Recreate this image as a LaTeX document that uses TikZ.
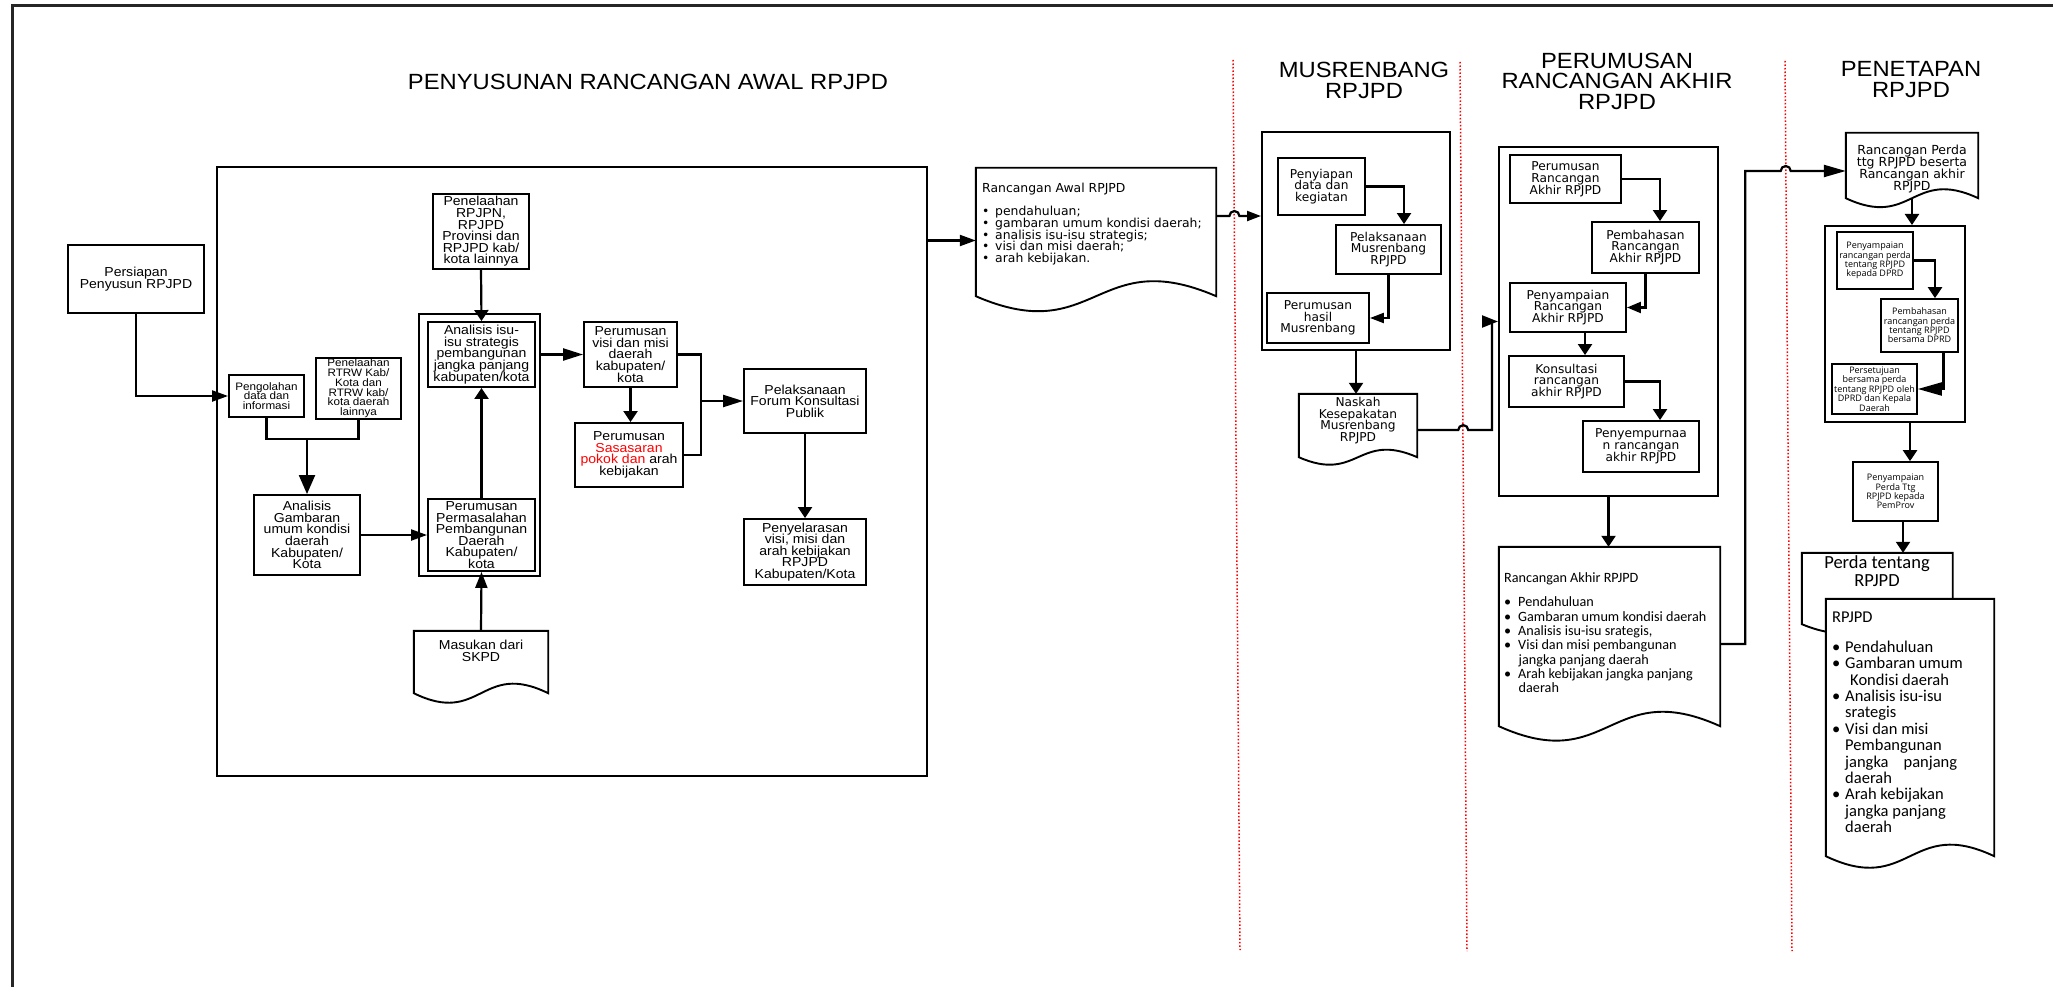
\documentclass[tikz,border=0pt]{standalone}
\usepackage{fontspec}
\setmainfont{Liberation Sans}[FakeStretch=1.08]
\newfontfamily\dejavu{DejaVu Sans}
\newfontfamily\carlito{Carlito}
\newfontfamily\opensans{Open Sans}
\usetikzlibrary{arrows.meta,calc}

% bullets for the list texts inside the document shapes
\newcommand{\bul}{\makebox[13pt][l]{\textbullet}}
\newcommand{\bulc}{\makebox[14pt][l]{\textbullet}}
\newcommand{\bulr}{\makebox[13pt][l]{\textbullet}}

% document symbol: straight top and sides, wavy bottom edge
\newcommand{\docdraw}[2]{\draw[docline] (#1.south east) -- (#1.north east) -- (#1.north west) -- (#1.south west)
  .. controls ($(#1.south)+(0,#2)$) and ($(#1.south)+(0,-#2)$) .. (#1.south east) -- cycle;}

\tikzset{
  every node/.style={inner sep=0pt, execute at begin node={\lineskiplimit=-100pt}},
  wh/.style 2 args={minimum width=#1pt, minimum height=#2pt},
  box/.style={draw, line width=1.9pt, align=center, font=\fontsize{13}{11.6}\selectfont},
  sbox/.style={box, font=\fontsize{10.8}{9.8}\selectfont},
  dbox/.style={box, font=\dejavu\fontsize{12.2}{11.8}\selectfont},
  obox/.style={box, line width=1.7pt, font=\opensans\fontsize{9}{9.4}\selectfont},
  grp/.style={draw, line width=2pt},
  docline/.style={line width=1.9pt, fill=white},
  conn/.style={line width=2.2pt},
  arH/.style={conn, -{Triangle[length=16pt,width=11pt]}},
  arV/.style={conn, -{Triangle[length=11pt,width=14pt]}},
  hdr/.style={align=center, font=\fontsize{22}{20.5}\selectfont},
  reddot/.style={red, dotted, line width=1.5pt},
}

\begin{document}
\begin{tikzpicture}[x=1pt,y=-1pt]
\useasboundingbox (0,0) rectangle (2053,987);

% outer frame
\draw[line width=3pt, black!85] (2060,6) -- (12,6) -- (12,995);

% phase separators
\coordinate (l1a) at (1233,60);  \coordinate (l1b) at (1240,950);
\coordinate (l2a) at (1460,62);  \coordinate (l2b) at (1467,951);
\coordinate (l3a) at (1785,61);  \coordinate (l3b) at (1792,951);
\draw[reddot] (l1a) -- (l1b);
\draw[reddot] (l2a) -- (l2b);
\draw[reddot] (l3a) -- (l3b);

% phase headings
\node[hdr] (ttl1) at (648,82) {PENYUSUNAN RANCANGAN AWAL RPJPD};
\node[hdr] (ttl2) at (1364,80.5) {MUSRENBANG\\RPJPD};
\node[hdr] (ttl3) at (1617,81) {PERUMUSAN\\RANCANGAN AKHIR\\RPJPD};
\node[hdr] (ttl4) at (1911,79.5) {PENETAPAN\\RPJPD};

% ---------- Penyusunan rancangan awal ----------
\node[grp, wh={709.5}{609.3}] (penyusunan) at (571.75,471.35) {};
\node[box, wh={136}{68}] (persiapan) at (136,279) {Persiapan\\Penyusun RPJPD};
\node[sbox, wh={75}{42}] (pengolahan) at (266.5,396) {Pengolahan\\data dan\\informasi};
\node[sbox, wh={85}{61}] (rtrw) at (358.5,388.5) {Penelaahan\\RTRW Kab/\\Kota dan\\RTRW kab/\\kota daerah\\lainnya};
\node[box, wh={106}{80}] (gambaran) at (307,535) {Analisis\\Gambaran\\umum kondisi\\daerah\\Kabupaten/\\Kota};
\node[box, wh={96}{75}] (rpjpn) at (481,231.5) {Penelaahan\\RPJPN,\\RPJPD\\Provinsi dan\\RPJPD kab/\\kota lainnya};
\node[box, wh={121}{262}] (grpisu) at (479.5,445) {};
\node[box, wh={107}{65}] (isu) at (481.5,354.5) {Analisis isu-\\isu strategis\\pembangunan\\jangka panjang\\kabupaten/kota};
\node[box, wh={107}{72}] (masalah) at (481.5,535) {Perumusan\\Permasalahan\\Pembangunan\\Daerah\\Kabupaten/\\kota};
\node[box, wh={93}{65}] (visi) at (630.5,354.5) {Perumusan\\visi dan misi\\daerah\\kabupaten/\\kota};
\node[box, wh={108}{64}] (sasaran) at (629,455) {Perumusan\\\textcolor{red}{Sasasaran}\\\textcolor{red}{pokok dan} arah\\kebijakan};
\node[box, wh={122}{64}] (forum) at (805,401) {Pelaksanaan\\Forum Konsultasi\\Publik};
\node[box, wh={122}{66}] (selaras) at (805,552) {Penyelarasan\\visi, misi dan\\arah kebijakan\\RPJPD\\Kabupaten/Kota};
\node[wh={134}{62}] (masukan) at (481,662) {};
\docdraw{masukan}{33}
\node[align=center, font=\fontsize{13}{11.6}\selectfont] (masukantxt) at (481,651) {Masukan dari\\SKPD};

\coordinate (jn) at (307,439);
\coordinate (mj) at (701,401);
\draw[arH] (persiapan.south) |- (pengolahan.west);
\draw[conn] (pengolahan.south) |- (jn);
\draw[conn] (rtrw.south) |- (jn);
\draw[conn, -{Triangle[length=19pt,width=16pt]}] (jn) -- (gambaran.north);
\draw[arH] (gambaran.east) -- (masalah.west);
\draw[arV] (rpjpn.south) -- (isu.north);
\draw[arV] (masalah.north) -- (isu.south);
\draw[conn, -{Triangle[length=16pt,width=12pt]}] (masukan.north) -- (masalah.south);
\draw[arH, -{Triangle[length=20pt,width=12pt]}] (grpisu.east |- isu.east) -- (visi.west);
\draw[arV] (visi.south) -- (visi.south |- sasaran.north);
\draw[conn] (visi.east) -| (mj);
\draw[conn] (sasaran.east) -| (mj);
\draw[conn, -{Triangle[length=20pt,width=12pt]}] (mj) -- (forum.west);
\draw[arV] (forum.south) -- (selaras.north);

% ---------- Rancangan awal document ----------
\node[wh={240}{128}] (awal) at (1096,232) {};
\docdraw{awal}{52}
\node[anchor=north west, align=left, font=\dejavu\fontsize{12.4}{11.75}\selectfont] (awaltxt) at (982,183)
  {Rancangan Awal RPJPD\\[11.3pt]\bul pendahuluan;\\\bul gambaran umum kondisi daerah;\\\bul analisis isu-isu strategis;\\\bul visi dan misi daerah;\\\bul arah kebijakan.};
\coordinate (awin) at ([yshift=-8.5pt]awal.west);
\draw[arH] (penyusunan.east |- awin) -- (awin);

% ---------- Musrenbang ----------
\node[grp, wh={188}{218}] (musren) at (1356,241) {};
\node[dbox, wh={87}{57}] (penyiapan) at (1321.5,186.5) {Penyiapan\\data dan\\kegiatan};
\node[dbox, wh={105}{49}] (pelmus) at (1388.5,249.5) {Pelaksanaan\\Musrenbang\\RPJPD};
\node[dbox, wh={102}{50}] (hasil) at (1318,318) {Perumusan\\hasil\\Musrenbang};
\node[wh={118}{63}] (naskah) at (1358,425.5) {};
\docdraw{naskah}{26}
\node[align=center, font=\dejavu\fontsize{12.2}{11.7}\selectfont] (naskahtxt) at (1358,420.5) {Naskah\\Kesepakatan\\Musrenbang\\RPJPD};

\coordinate (awout) at ([yshift=16pt]awal.east);
\coordinate (muin) at (musren.west |- awout);
\coordinate (h1) at (intersection of l1a--l1b and awout--muin);
\draw[conn, -{Triangle[length=14pt,width=10pt]}] (awout) -- ([xshift=-5pt]h1) arc[start angle=180,end angle=0,radius=5pt] -- (muin);
\draw[arV] (penyiapan.east) -| ([xshift=15.5pt]pelmus.north);
\draw[conn, -{Triangle[length=14pt,width=10pt]}] (pelmus.south) |- (hasil.east);
\draw[arV] (musren.south) -- (musren.south |- naskah.north);

% ---------- Perumusan rancangan akhir ----------
\node[grp, wh={219}{349}] (akhirbox) at (1608.5,321.5) {};
\node[dbox, wh={111}{48}] (perakhir) at (1565.5,179) {Perumusan\\Rancangan\\Akhir RPJPD};
\node[dbox, wh={107}{51}] (pembahasan) at (1645.5,247.5) {Pembahasan\\Rancangan\\Akhir RPJPD};
\node[dbox, wh={116}{49}] (penyampaian) at (1568,307.5) {Penyampaian\\Rancangan\\Akhir RPJPD};
\node[dbox, wh={115}{51}] (konsultasi) at (1566.5,381.5) {Konsultasi\\rancangan\\akhir RPJPD};
\node[dbox, wh={116}{51}] (sempurna) at (1641,446.5) {Penyempurnaa\\n rancangan\\akhir RPJPD};

\coordinate (nkout) at ([yshift=-4.5pt]naskah.east);
\coordinate (akw) at ([xshift=-6pt]akhirbox.west);
\coordinate (nkc) at (akw |- nkout);
\coordinate (h2) at (intersection of l2a--l2b and nkout--nkc);
\draw[conn, -{Triangle[length=16pt,width=12pt]}] (nkout) -- ([xshift=-5pt]h2) arc[start angle=180,end angle=0,radius=5pt] -- (nkc) |- (akhirbox.west);

\draw[arV] (perakhir.east) -| ([xshift=14.5pt]pembahasan.north);
\draw[conn, -{Triangle[length=14pt,width=11pt]}] (pembahasan.south) |- (penyampaian.east);
\coordinate (ps) at ([xshift=17pt]penyampaian.south);
\draw[arV] (ps) -- (ps |- konsultasi.north);
\draw[arV] (konsultasi.east) -| ([xshift=19pt]sempurna.north);

\node[wh={221}{179}] (akhirdoc) at (1609.5,636.5) {};
\docdraw{akhirdoc}{50}
\node[anchor=north west, align=left, font=\carlito\fontsize{14.2}{14.3}\selectfont] (akhirtxt) at (1504,572)
  {Rancangan Akhir RPJPD\\[10.5pt]\bulc Pendahuluan\\\bulc Gambaran umum kondisi daerah\\\bulc Analisis isu-isu srategis,\\\bulc Visi dan misi pembangunan\\\hspace*{14.5pt}jangka panjang daerah\\\bulc Arah kebijakan jangka panjang\\\hspace*{14.5pt}daerah};
\draw[arV] (akhirbox.south) -- (akhirbox.south |- akhirdoc.north);

% ---------- Penetapan ----------
\node[wh={132}{65}] (perdadoc) at (1912,165.5) {};
\docdraw{perdadoc}{31}
\node[align=center, font=\dejavu\fontsize{12.5}{11.7}\selectfont] (perdatxt) at (1912,169) {Rancangan Perda\\ttg RPJPD beserta\\Rancangan akhir\\RPJPD};

\coordinate (adout) at ([yshift=-7.5pt]akhirdoc.east);
\coordinate (pdin) at ([yshift=-5.5pt]perdadoc.west);
\coordinate (adc) at ([xshift=25pt]adout);
\coordinate (adc2) at (adc |- pdin);
\coordinate (h3) at (intersection of l3a--l3b and adc2--pdin);
\draw[conn, -{Triangle[length=22pt,width=12pt]}] (adout) -- (adc) -- (adc2) -- ([xshift=-5pt]h3) arc[start angle=180,end angle=0,radius=5pt] -- (pdin);

\node[grp, wh={140}{196}] (pgroup) at (1895,324) {};
\node[obox, wh={76}{57}] (psamp) at (1875,260.5) {Penyampaian\\rancangan perda\\tentang RPJPD\\kepada DPRD};
\node[obox, wh={77}{53}] (pbahas) at (1919.5,325.5) {Pembahasan\\rancangan perda\\tentang RPJPD\\bersama DPRD};
\node[obox, wh={85}{50}] (psetuju) at (1874.5,389) {Persetujuan\\bersama perda\\tentang RPJPD oleh\\DPRD dan Kepala\\Daerah};
\node[obox, wh={85}{59}] (pprov) at (1895.5,491.5) {Penyampaian\\Perda Ttg\\RPJPD kepada\\PemProv};

\draw[arV] (perdadoc.south) -- (perdadoc.south |- pgroup.north);
\draw[arV] (psamp.east) -| ([xshift=15.5pt]pbahas.north);
\coordinate (pbs) at ([xshift=24pt]pbahas.south);
\draw[conn, -{Triangle[length=24pt,width=13pt]}] (pbs) |- (psetuju.east);
\coordinate (pgs) at ([xshift=15pt]pgroup.south);
\draw[arV] (pgs) -- (pgs |- pprov.north);

\node[wh={150.5}{71}] (perdaback) at (1877.25,588.5) {};
\docdraw{perdaback}{31}
\node[align=center, font=\carlito\fontsize{18.5}{17.5}\selectfont] (perdabtxt) at (1877,571) {Perda tentang\\RPJPD};
\coordinate (pps) at ([xshift=7.5pt]pprov.south);
\draw[arV] (pps) -- (pps |- perdaback.north);

\node[wh={168}{257}] (rpfront) at (1910,727.5) {};
\docdraw{rpfront}{40}
\node[anchor=north west, align=left, font=\carlito\fontsize{16.5}{16.4}\selectfont] (rptxt) at (1832,611.5)
  {RPJPD\\[13.7pt]\bulr Pendahuluan\\\bulr Gambaran umum\\\hspace*{18pt}Kondisi daerah\\\bulr Analisis isu-isu\\\hspace*{13pt}srategis\\\bulr Visi dan misi\\\hspace*{13pt}Pembangunan\\\hspace*{13pt}jangka\hspace{15pt}panjang\\\hspace*{13pt}daerah\\\bulr Arah kebijakan\\\hspace*{13pt}jangka panjang\\\hspace*{13pt}daerah};

\end{tikzpicture}
\end{document}
